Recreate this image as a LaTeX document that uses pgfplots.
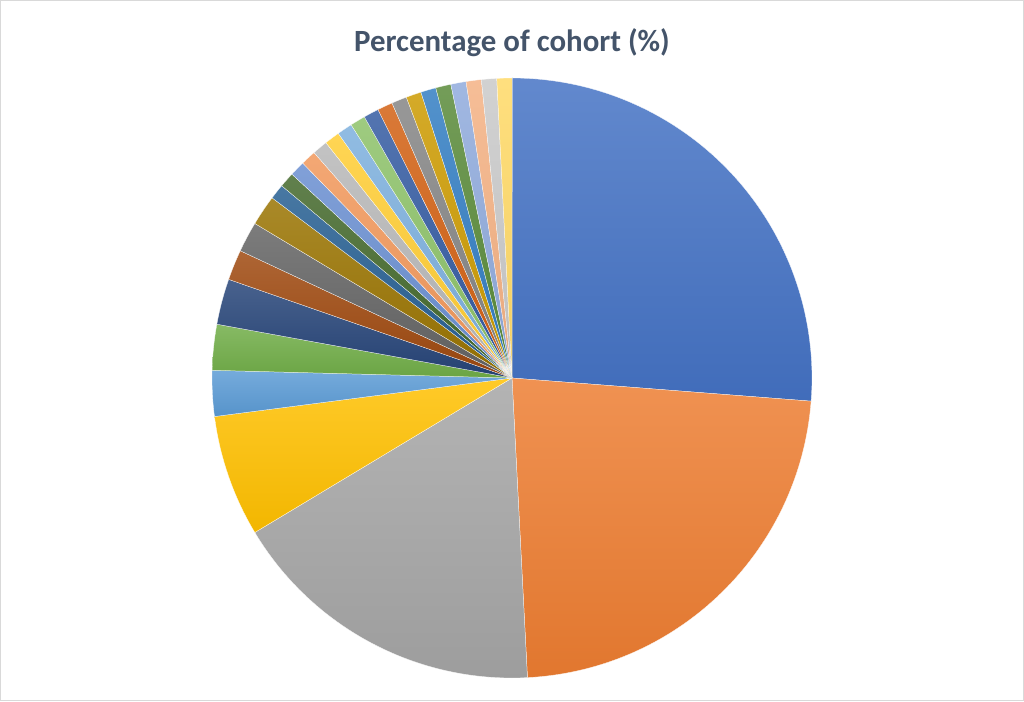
\documentclass[border=0pt]{standalone}
\usepackage{pgfplots}
\pgfplotsset{compat=1.18}
\usepackage{pgfplotstable}
\usepackage{fontspec}
\setmainfont{Carlito}

% Office theme chart colours, in Excel's series order
\definecolor{c1}{HTML}{4472C4}
\definecolor{c2}{HTML}{ED7D31}
\definecolor{c3}{HTML}{A5A5A5}
\definecolor{c4}{HTML}{FFC000}
\definecolor{c5}{HTML}{5B9BD5}
\definecolor{c6}{HTML}{70AD47}
\definecolor{c7}{HTML}{264478}
\definecolor{c8}{HTML}{9E480E}
\definecolor{c9}{HTML}{636363}
\definecolor{c10}{HTML}{997300}
\definecolor{c11}{HTML}{255E91}
\definecolor{c12}{HTML}{43682B}
\definecolor{c13}{HTML}{698ED0}
\definecolor{c14}{HTML}{F1975A}
\definecolor{c15}{HTML}{B7B7B7}
\definecolor{c16}{HTML}{FFCD33}
\definecolor{c17}{HTML}{7CAFDD}
\definecolor{c18}{HTML}{8CC168}
\definecolor{c19}{HTML}{335AA1}
\definecolor{c20}{HTML}{D26012}
\definecolor{c21}{HTML}{848484}
\definecolor{c22}{HTML}{CC9A00}
\definecolor{c23}{HTML}{327DC2}
\definecolor{c24}{HTML}{598A39}
\definecolor{c25}{HTML}{8FAADC}
\definecolor{c26}{HTML}{F4B183}
\definecolor{c27}{HTML}{C9C9C9}
\definecolor{c28}{HTML}{FFD966}
\definecolor{titlecol}{HTML}{44546A}
\definecolor{framecol}{HTML}{D9D9D9}

% percentage of cohort per slice
\pgfplotstableread{
val  col
26.23 c1
22.95 c2
17.21 c3
6.56  c4
2.46  c5
2.46  c6
2.46  c7
1.64  c8
1.64  c9
1.64  c10
0.82  c11
0.82  c12
0.82  c13
0.82  c14
0.82  c15
0.82  c16
0.82  c17
0.82  c18
0.82  c19
0.82  c20
0.82  c21
0.82  c22
0.82  c23
0.82  c24
0.82  c25
0.82  c26
0.82  c27
0.82  c28
}\slices

\begin{document}
\begin{tikzpicture}
\begin{axis}[
  width=1024bp, height=701bp,
  scale only axis,
  xmin=0, xmax=1024, ymin=0, ymax=701,
  hide axis,
  clip=false,
]
\draw[framecol, line width=1bp] (axis cs:0.5,0.5) rectangle (axis cs:1023.5,700.5);
\node[anchor=base, text=titlecol, font=\fontsize{31}{36}\selectfont\bfseries]
  at (axis cs:512,649) {Percentage of cohort (\%)};

\pgfplotstablegetrowsof{\slices}
\pgfmathtruncatemacro\last{\pgfplotsretval-1}
\def\angA{90}
\pgfplotsforeachungrouped \i in {0,...,\last}{%
  \pgfplotstablegetelem{\i}{val}\of\slices \let\v\pgfplotsretval
  \pgfplotstablegetelem{\i}{col}\of\slices \let\c\pgfplotsretval
  \pgfmathsetmacro\angB{\angA-\v*3.6}
  \edef\temp{\noexpand\path[draw=white, line width=0.25bp,
      top color=\c!84!white, bottom color=\c!95!black]
    (axis cs:512,323) -- ++(\angA:300bp)
    arc[start angle=\angA, end angle=\angB, radius=300bp] -- cycle;}
  \temp
  \let\angA\angB
}
\end{axis}
\end{tikzpicture}
\end{document}
